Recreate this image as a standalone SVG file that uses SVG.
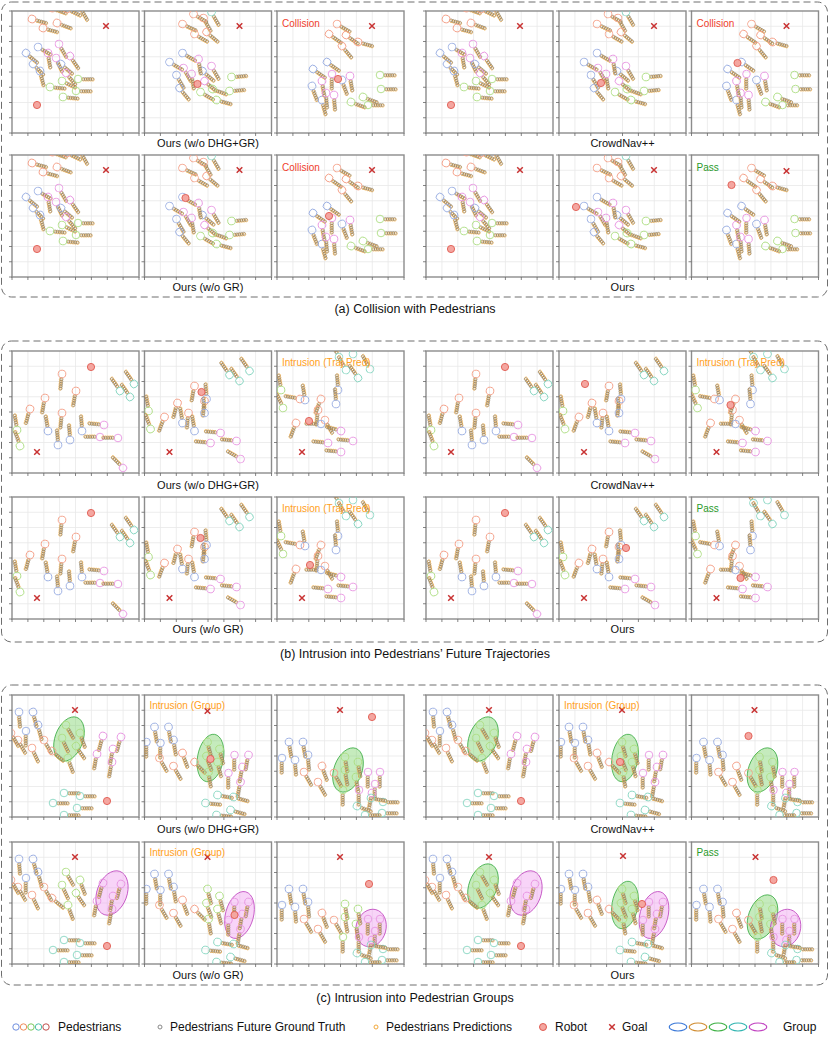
<svg xmlns="http://www.w3.org/2000/svg" xmlns:xlink="http://www.w3.org/1999/xlink" width="830" height="1038" viewBox="0 0 830 1038">
<style>
.box{fill:none;stroke:#6e6e6e;stroke-width:1;stroke-dasharray:7 4}
.gr{stroke:#e8e8e8;stroke-width:.8;fill:none}
.fr{fill:none;stroke:#8c8c8c;stroke-width:1.4}
.tk{stroke:#666;stroke-width:.8}
.gt{fill:none;stroke:#8a806e;stroke-width:.55}
.pr{fill:none;stroke:#f2a93b;stroke-width:.65}
.cb{fill:none;stroke:#9aaee2;stroke-width:.9}
.cs{fill:none;stroke:#f4a088;stroke-width:.9}
.cg{fill:none;stroke:#aede84;stroke-width:.9}
.ct{fill:none;stroke:#88d6c2;stroke-width:.9}
.cm{fill:none;stroke:#e896e2;stroke-width:.9}
.lbl{font-family:"Liberation Sans",Arial,sans-serif;font-size:11px;fill:#111;text-anchor:middle}
.cap{font-family:"Liberation Sans",Arial,sans-serif;font-size:12.5px;fill:#111;text-anchor:middle}
.st{font-family:"Liberation Sans",Arial,sans-serif;font-size:10px}
.col{fill:#f0402c}.pas{fill:#2a9a2a}.int{fill:#ffa01c}
.eg{fill:#7ed36c;fill-opacity:.45;stroke:#3fae48;stroke-width:.8}
.em{fill:#f0a0f0;fill-opacity:.45;stroke:#c04ac0;stroke-width:.8}
.leg{font-family:"Liberation Sans",Arial,sans-serif;font-size:12px;fill:#111}
</style>
<defs>
<clipPath id="cp"><rect width="127" height="122"/></clipPath>
<g id="fr">
<rect width="127" height="122" fill="#fff"/>
<path class="gr" d="M15.9 0V122M31.8 0V122M47.6 0V122M63.5 0V122M79.4 0V122M95.3 0V122M111.1 0V122M0 15.25H127M0 30.5H127M0 45.75H127M0 61H127M0 76.25H127M0 91.5H127M0 106.75H127"/>
<rect class="fr" width="127" height="122"/>
<path class="tk" d="M0 122v3M15.9 122v3M31.8 122v3M47.6 122v3M63.5 122v3M79.4 122v3M95.3 122v3M111.1 122v3M127 122v3M0 0h-3M0 15.25h-3M0 30.5h-3M0 45.75h-3M0 61h-3M0 76.25h-3M0 91.5h-3M0 106.75h-3M0 122h-3"/>
</g>
<g id="ch">
<g class="pr"><circle cx="5.6" cy=".6" r="1.5"/><circle cx="7.9" cy=".6" r="1.5"/><circle cx="10.2" cy=".6" r="1.5"/><circle cx="12.5" cy=".6" r="1.5"/><circle cx="14.8" cy=".6" r="1.5"/></g>
<g class="gt"><circle cx="5.2" r="1.5"/><circle cx="7.5" r="1.5"/><circle cx="9.8" r="1.5"/><circle cx="12.1" r="1.5"/><circle cx="14.4" r="1.5"/></g>
</g>
<g id="B"><use href="#ch"/><circle class="cb" r="3.8"/></g>
<g id="S"><use href="#ch"/><circle class="cs" r="3.8"/></g>
<g id="G"><use href="#ch"/><circle class="cg" r="3.8"/></g>
<g id="T"><use href="#ch"/><circle class="ct" r="3.8"/></g>
<g id="M"><use href="#ch"/><circle class="cm" r="3.8"/></g>
<circle id="rob" r="3.6" fill="#f4a6a0" stroke="#e05a50" stroke-width=".9"/>
<path id="goal" d="M-2.8-2.8L2.8 2.8M2.8-2.8L-2.8 2.8" stroke="#c83232" stroke-width="1.5"/>

<g id="sa1">
<use href="#S" transform="translate(20 8) rotate(15)"/><use href="#S" transform="translate(31 17) rotate(15)"/><use href="#S" transform="translate(45 12) rotate(20)"/><use href="#S" transform="translate(40 -3) rotate(20)"/><use href="#S" transform="translate(55 -2) rotate(25)"/><use href="#S" transform="translate(68 -4) rotate(60)"/>
<use href="#B" transform="translate(26 36) rotate(30)"/><use href="#B" transform="translate(14 42) rotate(40)"/><use href="#B" transform="translate(21 53) rotate(45)"/><use href="#B" transform="translate(28 60) rotate(75)"/>
<use href="#M" transform="translate(47 33) rotate(60)"/><use href="#M" transform="translate(36 42) rotate(80)"/><use href="#M" transform="translate(44 47) rotate(65)"/><use href="#M" transform="translate(58 45) rotate(55)"/><use href="#B" transform="translate(49 53) rotate(40)"/><use href="#M" transform="translate(54 62) rotate(50)"/>
<use href="#G" transform="translate(66 68) rotate(0)"/><use href="#G" transform="translate(50 70) rotate(25)"/><use href="#G" transform="translate(38 76) rotate(5)"/><use href="#G" transform="translate(64 80) rotate(0)"/><use href="#G" transform="translate(51 86) rotate(5)"/>
</g>
<g id="sa2">
<use href="#S" transform="translate(49 3) rotate(30)"/><use href="#S" transform="translate(59 7) rotate(60)"/><use href="#S" transform="translate(38 13) rotate(25)"/><use href="#S" transform="translate(50 23) rotate(30)"/><use href="#S" transform="translate(62 21) rotate(40)"/><use href="#T" transform="translate(67 1) rotate(60)"/>
<use href="#B" transform="translate(38 42) rotate(30)"/><use href="#B" transform="translate(25 51) rotate(30)"/><use href="#B" transform="translate(32 64) rotate(60)"/><use href="#B" transform="translate(35 77) rotate(50)"/><use href="#B" transform="translate(58 60) rotate(40)"/>
<use href="#M" transform="translate(54 48) rotate(80)"/><use href="#M" transform="translate(39 57) rotate(60)"/><use href="#M" transform="translate(47 63) rotate(80)"/><use href="#M" transform="translate(60 70) rotate(40)"/><use href="#M" transform="translate(67 55) rotate(60)"/>
<use href="#G" transform="translate(87 66) rotate(-5)"/><use href="#G" transform="translate(68 78) rotate(20)"/><use href="#G" transform="translate(56 81) rotate(30)"/><use href="#G" transform="translate(85 80) rotate(-5)"/><use href="#G" transform="translate(72 89) rotate(15)"/>
</g>
<g id="sa3">
<use href="#S" transform="translate(60 13) rotate(30)"/><use href="#S" transform="translate(52 23) rotate(35)"/><use href="#S" transform="translate(69 24) rotate(35)"/><use href="#S" transform="translate(81 31) rotate(15)"/><use href="#S" transform="translate(65 35) rotate(50)"/>
<use href="#B" transform="translate(50 51) rotate(35)"/><use href="#B" transform="translate(36 58) rotate(35)"/><use href="#B" transform="translate(35 75) rotate(70)"/><use href="#B" transform="translate(45 89) rotate(75)"/><use href="#B" transform="translate(65 69) rotate(70)"/>
<use href="#M" transform="translate(55 63) rotate(90)"/><use href="#M" transform="translate(45 70) rotate(80)"/><use href="#M" transform="translate(73 65) rotate(80)"/><use href="#M" transform="translate(57 84) rotate(85)"/><use href="#M" transform="translate(49 82) rotate(85)"/>
<use href="#G" transform="translate(103 64) rotate(0)"/><use href="#G" transform="translate(104 78) rotate(0)"/><use href="#G" transform="translate(86 86) rotate(20)"/><use href="#G" transform="translate(74 91) rotate(20)"/><use href="#G" transform="translate(91 94) rotate(0)"/>
</g>

<g id="sb1">
<use href="#S" transform="translate(50 23) rotate(95)"/><use href="#S" transform="translate(33 47) rotate(100)"/><use href="#S" transform="translate(50 62) rotate(95)"/><use href="#S" transform="translate(18 58) rotate(105)"/><use href="#S" transform="translate(64 40) rotate(100)"/>
<use href="#G" transform="translate(5 79) rotate(-100)"/><use href="#G" transform="translate(8 95) rotate(-110)"/>
<use href="#T" transform="translate(118 46) rotate(-125)"/><use href="#T" transform="translate(108 40) rotate(-125)"/><use href="#T" transform="translate(122 33) rotate(-125)"/>
<use href="#B" transform="translate(46 94) rotate(-95)"/><use href="#B" transform="translate(58 89) rotate(-95)"/><use href="#B" transform="translate(36 80) rotate(-100)"/><use href="#B" transform="translate(70 80) rotate(-95)"/>
<use href="#M" transform="translate(88 86) rotate(180)"/><use href="#M" transform="translate(106 87) rotate(180)"/><use href="#M" transform="translate(92 74) rotate(185)"/><use href="#M" transform="translate(111 117) rotate(-135)"/>
</g>
<g id="sb2">
<use href="#S" transform="translate(50 35) rotate(100)"/><use href="#S" transform="translate(33 52) rotate(105)"/><use href="#S" transform="translate(44 62) rotate(95)"/><use href="#S" transform="translate(20 66) rotate(110)"/><use href="#S" transform="translate(60 50) rotate(95)"/>
<use href="#G" transform="translate(4 60) rotate(-100)"/><use href="#G" transform="translate(6 78) rotate(-110)"/>
<use href="#T" transform="translate(95 30) rotate(-125)"/><use href="#T" transform="translate(85 24) rotate(-125)"/><use href="#T" transform="translate(105 20) rotate(-125)"/>
<use href="#B" transform="translate(38 72) rotate(-100)"/><use href="#B" transform="translate(60 62) rotate(-95)"/><use href="#B" transform="translate(62 48) rotate(-95)"/><use href="#B" transform="translate(50 80) rotate(-100)"/>
<use href="#M" transform="translate(76 82) rotate(185)"/><use href="#M" transform="translate(92 90) rotate(185)"/><use href="#M" transform="translate(66 92) rotate(185)"/><use href="#M" transform="translate(96 108) rotate(-150)"/>
</g>
<g id="sb3">
<use href="#T" transform="translate(69 19) rotate(-120)"/><use href="#T" transform="translate(81 27) rotate(-125)"/><use href="#T" transform="translate(93 18) rotate(-120)"/><use href="#T" transform="translate(62 6) rotate(-120)"/><use href="#T" transform="translate(76 3) rotate(-120)"/>
<use href="#G" transform="translate(4 39) rotate(-100)"/><use href="#G" transform="translate(6 57) rotate(-115)"/>
<use href="#S" transform="translate(23 48) rotate(190)"/><use href="#S" transform="translate(44 48) rotate(110)"/><use href="#S" transform="translate(41 59) rotate(95)"/><use href="#S" transform="translate(19 72) rotate(110)"/><use href="#S" transform="translate(48 69) rotate(60)"/>
<use href="#B" transform="translate(28 49) rotate(-100)"/><use href="#B" transform="translate(61 39) rotate(-95)"/><use href="#B" transform="translate(59 53) rotate(-95)"/><use href="#B" transform="translate(44 73) rotate(180)"/>
<use href="#M" transform="translate(64 80) rotate(195)"/><use href="#M" transform="translate(76 90) rotate(185)"/><use href="#M" transform="translate(51 92) rotate(185)"/><use href="#M" transform="translate(64 101) rotate(185)"/>
</g>

<g id="sc1">
<use href="#B" transform="translate(7 17) rotate(85)"/><use href="#B" transform="translate(21 17) rotate(75)"/><use href="#B" transform="translate(26 30) rotate(75)"/><use href="#B" transform="translate(14 36) rotate(90)"/>
<use href="#S" transform="translate(6 45) rotate(60)"/><use href="#S" transform="translate(20 53) rotate(65)"/><use href="#S" transform="translate(32 45) rotate(60)"/><use href="#S" transform="translate(40 56) rotate(40)"/><use href="#S" transform="translate(-1 38) rotate(60)"/>
<use href="#G" transform="translate(54 30) rotate(60)"/><use href="#G" transform="translate(68 38) rotate(70)"/><use href="#G" transform="translate(50 43) rotate(65)"/><use href="#G" transform="translate(64 51) rotate(55)"/><use href="#G" transform="translate(56 63) rotate(70)"/>
<use href="#M" transform="translate(91 41) rotate(105)"/><use href="#M" transform="translate(109 42) rotate(105)"/><use href="#M" transform="translate(85 59) rotate(100)"/><use href="#M" transform="translate(101 54) rotate(100)"/><use href="#M" transform="translate(100 67) rotate(100)"/>
<use href="#T" transform="translate(52 98) rotate(0)"/><use href="#T" transform="translate(68 101) rotate(0)"/><use href="#T" transform="translate(41 108) rotate(0)"/><use href="#T" transform="translate(65 113) rotate(0)"/><use href="#T" transform="translate(52 120) rotate(0)"/>
</g>
<g id="sc2">
<use href="#B" transform="translate(10 32) rotate(80)"/><use href="#B" transform="translate(24 32) rotate(80)"/><use href="#B" transform="translate(29 45) rotate(80)"/><use href="#B" transform="translate(2 47) rotate(90)"/><use href="#B" transform="translate(16 48) rotate(90)"/>
<use href="#S" transform="translate(15 63) rotate(60)"/><use href="#S" transform="translate(29 71) rotate(60)"/><use href="#S" transform="translate(38 58) rotate(70)"/><use href="#S" transform="translate(50 67) rotate(45)"/>
<use href="#G" transform="translate(63 47) rotate(75)"/><use href="#G" transform="translate(75 54) rotate(75)"/><use href="#G" transform="translate(62 61) rotate(70)"/><use href="#G" transform="translate(73 67) rotate(75)"/><use href="#G" transform="translate(64 77) rotate(80)"/>
<use href="#M" transform="translate(90 60) rotate(90)"/><use href="#M" transform="translate(104 60) rotate(100)"/><use href="#M" transform="translate(98 72) rotate(100)"/><use href="#M" transform="translate(84 78) rotate(90)"/><use href="#M" transform="translate(96 87) rotate(100)"/>
<use href="#T" transform="translate(73 100) rotate(10)"/><use href="#T" transform="translate(89 102) rotate(15)"/><use href="#T" transform="translate(61 108) rotate(5)"/><use href="#T" transform="translate(86 115) rotate(15)"/><use href="#T" transform="translate(72 120) rotate(5)"/>
</g>
<g id="sc3">
<use href="#B" transform="translate(12 47) rotate(80)"/><use href="#B" transform="translate(26 47) rotate(80)"/><use href="#B" transform="translate(31 60) rotate(85)"/><use href="#B" transform="translate(18 65) rotate(85)"/><use href="#B" transform="translate(5 63) rotate(90)"/>
<use href="#S" transform="translate(27 77) rotate(60)"/><use href="#S" transform="translate(45 71) rotate(70)"/><use href="#S" transform="translate(41 87) rotate(60)"/><use href="#S" transform="translate(57 78) rotate(60)"/>
<use href="#G" transform="translate(68 62) rotate(80)"/><use href="#G" transform="translate(81 67) rotate(80)"/><use href="#G" transform="translate(68 75) rotate(80)"/><use href="#G" transform="translate(79 82) rotate(80)"/><use href="#G" transform="translate(66 95) rotate(90)"/>
<use href="#M" transform="translate(91 77) rotate(90)"/><use href="#M" transform="translate(103 77) rotate(90)"/><use href="#M" transform="translate(98 89) rotate(90)"/><use href="#M" transform="translate(82 95) rotate(90)"/><use href="#M" transform="translate(95 98) rotate(100)"/>
<use href="#T" transform="translate(80 111) rotate(20)"/><use href="#T" transform="translate(106 107) rotate(0)"/><use href="#T" transform="translate(94 103) rotate(10)"/><use href="#T" transform="translate(105 118) rotate(0)"/><use href="#T" transform="translate(88 120) rotate(0)"/>
</g>
<ellipse id="eg1" class="eg" rx="14" ry="23" transform="translate(57 44) rotate(20)"/>
<ellipse id="em1" class="em" rx="15" ry="23" transform="translate(100 51) rotate(20)"/>
<ellipse id="eg2" class="eg" rx="13" ry="24" transform="translate(66 63) rotate(10)"/>
<ellipse id="em2" class="em" rx="14" ry="24" transform="translate(95 73) rotate(15)"/>
<ellipse id="eg3" class="eg" rx="14" ry="23" transform="translate(71 75) rotate(20)"/>
<ellipse id="em3" class="em" rx="15" ry="19" transform="translate(94 86) rotate(15)"/>
</defs>

<rect class="box" x="1.5" y="2" width="826" height="295" rx="10"/>
<rect class="box" x="1.5" y="341" width="826" height="301" rx="10"/>
<rect class="box" x="1.5" y="685" width="826" height="300" rx="10"/>

<g id="sec-a">
<g id="a11" transform="translate(12 11)"><use href="#fr"/><g clip-path="url(#cp)"><use href="#sa1"/><use href="#goal" x="94" y="15"/><use href="#rob" x="25" y="94"/></g></g>
<g id="a12" transform="translate(144.5 11)"><use href="#fr"/><g clip-path="url(#cp)"><use href="#sa2"/><use href="#goal" x="95" y="15"/><use href="#rob" x="53" y="73"/></g></g>
<g id="a13" transform="translate(277 11)"><use href="#fr"/><g clip-path="url(#cp)"><use href="#sa3"/><use href="#goal" x="95" y="15"/><use href="#rob" x="61" y="68"/></g><text class="st col" x="5" y="16">Collision</text></g>
<g id="a14" transform="translate(426 11)"><use href="#fr"/><g clip-path="url(#cp)"><use href="#sa1"/><use href="#goal" x="94" y="15"/><use href="#rob" x="25" y="94"/></g></g>
<g id="a15" transform="translate(559 11)"><use href="#fr"/><g clip-path="url(#cp)"><use href="#sa2"/><use href="#goal" x="95" y="15"/><use href="#rob" x="42" y="72"/></g></g>
<g id="a16" transform="translate(691.5 11)"><use href="#fr"/><g clip-path="url(#cp)"><use href="#sa3"/><use href="#goal" x="95" y="15"/><use href="#rob" x="46" y="52"/></g><text class="st col" x="5" y="16">Collision</text></g>
<g id="a21" transform="translate(12 155)"><use href="#fr"/><g clip-path="url(#cp)"><use href="#sa1"/><use href="#goal" x="94" y="15"/><use href="#rob" x="25" y="94"/></g></g>
<g id="a22" transform="translate(144.5 155)"><use href="#fr"/><g clip-path="url(#cp)"><use href="#sa2"/><use href="#goal" x="95" y="15"/><use href="#rob" x="41" y="43"/></g></g>
<g id="a23" transform="translate(277 155)"><use href="#fr"/><g clip-path="url(#cp)"><use href="#sa3"/><use href="#goal" x="95" y="15"/><use href="#rob" x="52" y="61"/></g><text class="st col" x="5" y="16">Collision</text></g>
<g id="a24" transform="translate(426 155)"><use href="#fr"/><g clip-path="url(#cp)"><use href="#sa1"/><use href="#goal" x="94" y="15"/><use href="#rob" x="25" y="94"/></g></g>
<g id="a25" transform="translate(559 155)"><use href="#fr"/><g clip-path="url(#cp)"><use href="#sa2"/><use href="#goal" x="95" y="15"/><use href="#rob" x="17" y="52"/></g></g>
<g id="a26" transform="translate(691.5 155)"><use href="#fr"/><g clip-path="url(#cp)"><use href="#sa3"/><use href="#goal" x="95" y="16"/><use href="#rob" x="40" y="30"/></g><text class="st pas" x="5" y="16">Pass</text></g>
<text class="lbl" x="208" y="147">Ours (w/o DHG+GR)</text>
<text class="lbl" x="622.5" y="147">CrowdNav++</text>
<text class="lbl" x="208" y="291">Ours (w/o GR)</text>
<text class="lbl" x="622.5" y="291">Ours</text>
<text class="cap" x="415" y="313">(a) Collision with Pedestrians</text>
</g>

<g id="sec-b">
<g id="b11" transform="translate(12 351)"><use href="#fr"/><g clip-path="url(#cp)"><use href="#sb1"/><use href="#goal" x="25" y="101"/><use href="#rob" x="79" y="16"/></g></g>
<g id="b12" transform="translate(144.5 351)"><use href="#fr"/><g clip-path="url(#cp)"><use href="#sb2"/><use href="#goal" x="25" y="101"/><use href="#rob" x="57" y="41"/></g></g>
<g id="b13" transform="translate(277 351)"><use href="#fr"/><g clip-path="url(#cp)"><use href="#sb3"/><use href="#goal" x="25" y="101"/><use href="#rob" x="32" y="70"/></g><text class="st int" x="5" y="15">Intrusion (Traj Pred)</text></g>
<g id="b14" transform="translate(426 351)"><use href="#fr"/><g clip-path="url(#cp)"><use href="#sb1"/><use href="#goal" x="25" y="101"/><use href="#rob" x="79" y="16"/></g></g>
<g id="b15" transform="translate(559 351)"><use href="#fr"/><g clip-path="url(#cp)"><use href="#sb2"/><use href="#goal" x="25" y="101"/><use href="#rob" x="26" y="33"/></g></g>
<g id="b16" transform="translate(691.5 351)"><use href="#fr"/><g clip-path="url(#cp)"><use href="#sb3"/><use href="#goal" x="25" y="101"/><use href="#rob" x="39" y="54"/></g><text class="st int" x="5" y="15">Intrusion (Traj Pred)</text></g>
<g id="b21" transform="translate(12 497)"><use href="#fr"/><g clip-path="url(#cp)"><use href="#sb1"/><use href="#goal" x="25" y="101"/><use href="#rob" x="79" y="16"/></g></g>
<g id="b22" transform="translate(144.5 497)"><use href="#fr"/><g clip-path="url(#cp)"><use href="#sb2"/><use href="#goal" x="25" y="101"/><use href="#rob" x="56" y="41"/></g></g>
<g id="b23" transform="translate(277 497)"><use href="#fr"/><g clip-path="url(#cp)"><use href="#sb3"/><use href="#goal" x="25" y="101"/><use href="#rob" x="33" y="68"/></g><text class="st int" x="5" y="15">Intrusion (Traj Pred)</text></g>
<g id="b24" transform="translate(426 497)"><use href="#fr"/><g clip-path="url(#cp)"><use href="#sb1"/><use href="#goal" x="25" y="101"/><use href="#rob" x="79" y="16"/></g></g>
<g id="b25" transform="translate(559 497)"><use href="#fr"/><g clip-path="url(#cp)"><use href="#sb2"/><use href="#goal" x="25" y="101"/><use href="#rob" x="67" y="51"/></g></g>
<g id="b26" transform="translate(691.5 497)"><use href="#fr"/><g clip-path="url(#cp)"><use href="#sb3"/><use href="#goal" x="25" y="101"/><use href="#rob" x="49" y="81"/></g><text class="st pas" x="5" y="15">Pass</text></g>
<text class="lbl" x="208" y="489">Ours (w/o DHG+GR)</text>
<text class="lbl" x="622.5" y="489">CrowdNav++</text>
<text class="lbl" x="208" y="633">Ours (w/o GR)</text>
<text class="lbl" x="622.5" y="633">Ours</text>
<text class="cap" x="415" y="658">(b) Intrusion into Pedestrians’ Future Trajectories</text>
</g>

<g id="sec-c">
<g id="c11" transform="translate(12 695)"><use href="#fr"/><g clip-path="url(#cp)"><use href="#eg1"/><use href="#sc1"/><use href="#goal" x="63" y="15"/><use href="#rob" x="95" y="106"/></g></g>
<g id="c12" transform="translate(144.5 695)"><use href="#fr"/><g clip-path="url(#cp)"><use href="#eg2"/><use href="#sc2"/><use href="#goal" x="63" y="16"/><use href="#rob" x="66" y="64"/></g><text class="st int" x="5" y="14">Intrusion (Group)</text></g>
<g id="c13" transform="translate(277 695)"><use href="#fr"/><g clip-path="url(#cp)"><use href="#eg3"/><use href="#sc3"/><use href="#goal" x="63" y="15"/><use href="#rob" x="95" y="22"/></g></g>
<g id="c14" transform="translate(426 695)"><use href="#fr"/><g clip-path="url(#cp)"><use href="#eg1"/><use href="#sc1"/><use href="#goal" x="63" y="15"/><use href="#rob" x="95" y="106"/></g></g>
<g id="c15" transform="translate(559 695)"><use href="#fr"/><g clip-path="url(#cp)"><use href="#eg2"/><use href="#sc2"/><use href="#goal" x="63" y="15"/><use href="#rob" x="61" y="67"/></g><text class="st int" x="5" y="14">Intrusion (Group)</text></g>
<g id="c16" transform="translate(691.5 695)"><use href="#fr"/><g clip-path="url(#cp)"><use href="#eg3"/><use href="#sc3"/><use href="#goal" x="63" y="15"/><use href="#rob" x="57" y="41"/></g></g>
<g id="c21" transform="translate(12 842)"><use href="#fr"/><g clip-path="url(#cp)"><use href="#em1"/><use href="#sc1"/><use href="#goal" x="63" y="15"/><use href="#rob" x="95" y="104"/></g></g>
<g id="c22" transform="translate(144.5 842)"><use href="#fr"/><g clip-path="url(#cp)"><use href="#em2"/><use href="#sc2"/><use href="#goal" x="63" y="15"/><use href="#rob" x="90" y="73"/></g><text class="st int" x="5" y="14">Intrusion (Group)</text></g>
<g id="c23" transform="translate(277 842)"><use href="#fr"/><g clip-path="url(#cp)"><use href="#em3"/><use href="#sc3"/><use href="#goal" x="63" y="15"/><use href="#rob" x="92" y="42"/></g></g>
<g id="c24" transform="translate(426 842)"><use href="#fr"/><g clip-path="url(#cp)"><use href="#eg1"/><use href="#em1"/><use href="#sc1"/><use href="#goal" x="63" y="15"/><use href="#rob" x="95" y="104"/></g></g>
<g id="c25" transform="translate(559 842)"><use href="#fr"/><g clip-path="url(#cp)"><use href="#eg2"/><use href="#em2"/><use href="#sc2"/><use href="#goal" x="64" y="14"/><use href="#rob" x="83" y="62"/></g></g>
<g id="c26" transform="translate(691.5 842)"><use href="#fr"/><g clip-path="url(#cp)"><use href="#eg3"/><use href="#em3"/><use href="#sc3"/><use href="#goal" x="64" y="15"/><use href="#rob" x="82" y="38"/></g><text class="st pas" x="5" y="14">Pass</text></g>
<text class="lbl" x="208" y="833">Ours (w/o DHG+GR)</text>
<text class="lbl" x="622.5" y="833">CrowdNav++</text>
<text class="lbl" x="208" y="979">Ours (w/o GR)</text>
<text class="lbl" x="622.5" y="979">Ours</text>
<text class="cap" x="415" y="1002">(c) Intrusion into Pedestrian Groups</text>
</g>

<g id="legend">
<circle cx="16" cy="1027" r="3.2" fill="none" stroke="#6f8fe0"/>
<circle cx="23.5" cy="1027" r="3.2" fill="none" stroke="#f08c5a"/>
<circle cx="31" cy="1027" r="3.2" fill="none" stroke="#7cc85c"/>
<circle cx="38.5" cy="1027" r="3.2" fill="none" stroke="#4cc0aa"/>
<circle cx="46" cy="1027" r="3.2" fill="none" stroke="#c0504d"/>
<text class="leg" x="58" y="1031">Pedestrians</text>
<circle cx="160" cy="1027" r="2" fill="none" stroke="#888"/>
<text class="leg" x="170" y="1031">Pedestrians Future Ground Truth</text>
<circle cx="376" cy="1027" r="2" fill="none" stroke="#f2a93b"/>
<text class="leg" x="386" y="1031">Pedestrians Predictions</text>
<circle cx="543" cy="1027" r="3.5" fill="#f4a6a0" stroke="#e05a50"/>
<text class="leg" x="555" y="1031">Robot</text>
<use href="#goal" x="612" y="1027"/>
<text class="leg" x="622" y="1031">Goal</text>
<ellipse cx="678" cy="1027" rx="8.8" ry="4" fill="none" stroke="#3a78d8" stroke-width="1.2"/>
<ellipse cx="698" cy="1027" rx="8.8" ry="4" fill="none" stroke="#d08c30" stroke-width="1.2"/>
<ellipse cx="718" cy="1027" rx="8.8" ry="4" fill="none" stroke="#3cb043" stroke-width="1.2"/>
<ellipse cx="738" cy="1027" rx="8.8" ry="4" fill="none" stroke="#30b4b0" stroke-width="1.2"/>
<ellipse cx="758" cy="1027" rx="8.8" ry="4" fill="none" stroke="#c040c0" stroke-width="1.2"/>
<text class="leg" x="783" y="1031">Group</text>
</g>
</svg>
